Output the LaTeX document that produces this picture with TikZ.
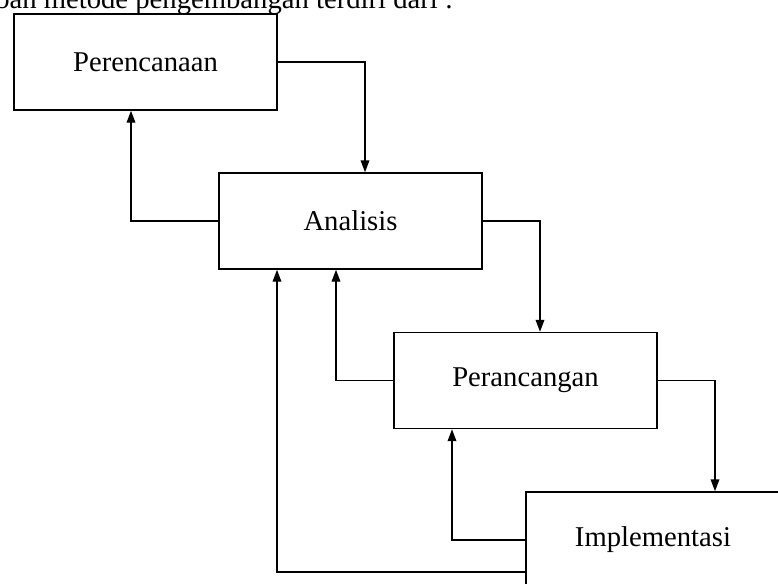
\documentclass[tikz,border=0pt]{standalone}
\usepackage{fontspec}
\setmainfont{Liberation Serif}
\usetikzlibrary{arrows.meta,calc}
\tikzset{
  tahap/.style={draw,line width=1.1pt,minimum width=197.25pt,minimum height=72pt,font=\fontsize{21.5}{26}\selectfont},
  panah/.style={-{Triangle[length=9pt,width=6.5pt]},line width=1.1pt}
}
\begin{document}
\begin{tikzpicture}[x=0.75pt,y=-0.75pt]
\useasboundingbox (0,0) rectangle (778,583);
\clip (0,0) rectangle (778,583);
\node[anchor=base west,inner sep=0pt,font=\fontsize{21.5}{26}\selectfont] (judul) at (-5,8.5) {ban metode pengembangan terdiri dari :};
\node[tahap] (rencana) at (145.5,62) {Perencanaan};
\node[tahap] (analisis) at (350.5,221) {Analisis};
\node[tahap] (rancang) at (525.5,380.5) {Perancangan};
\node[tahap,minimum width=190.5pt] (implementasi) at (653,540) {Implementasi};
%alur maju
\draw[panah] (rencana.east) -| ($(analisis.north)+(14.5,0)$);
\draw[panah] (analisis.east) -| ($(rancang.north)+(14.5,0)$);
\draw[panah] (rancang.east) -| ($(implementasi.north)+(62,0)$);
%umpan balik
\draw[panah] (analisis.west) -| ($(rencana.south)+(-14.5,0)$);
\draw[panah] (rancang.west) -| ($(analisis.south)+(-14.5,0)$);
\draw[panah] (implementasi.west) -| ($(rancang.south)+(-73.5,0)$);
\draw[panah] ($(implementasi.west)+(0,32)$) -| ($(analisis.south)+(-73.5,0)$);
\end{tikzpicture}
\end{document}
